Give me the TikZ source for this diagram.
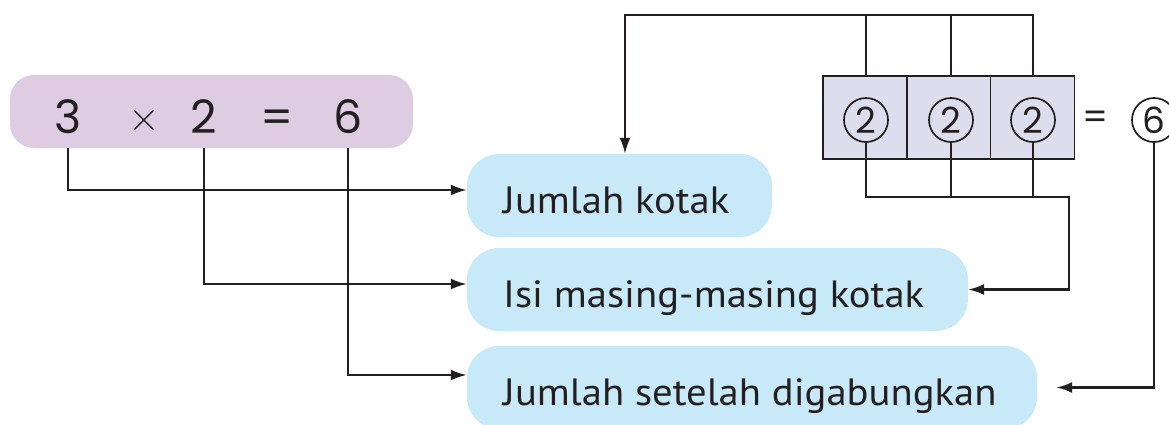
\documentclass[tikz,border=0pt]{standalone}
\usepackage{fontspec}
\setmainfont{PT Sans}[FakeStretch=1.07]
\newfontfamily\digf{Poppins}
\newfontfamily\lmf{Latin Modern Roman}
\usetikzlibrary{arrows.meta,calc}
\definecolor{lila}{RGB}{222,204,227}
\definecolor{biru}{RGB}{199,233,248}
\definecolor{lav}{RGB}{221,221,238}
\definecolor{ink}{RGB}{35,31,32}
\tikzset{
  conn/.style={draw=ink, line width=2.3pt},
  arr/.style={conn, -{Latex[length=16pt,width=11pt]}},
  eqbox/.style={fill=lila, rounded corners=24pt, minimum width=403pt, minimum height=73pt, inner sep=0pt},
  dig/.style={anchor=base, text=ink, font=\digf\fontsize{46}{46}\selectfont, inner sep=0pt},
  labelbox/.style={fill=biru, rounded corners=32pt, minimum height=83pt, inner sep=0pt},
  labeltext/.style={anchor=base west, inner sep=0pt, text=ink, font=\fontsize{38}{38}\selectfont},
  cell/.style={draw=ink, line width=1.7pt, fill=lav, minimum width=84pt, minimum height=83pt, inner sep=0pt},
  circ/.style={draw=ink, line width=1.7pt, circle, minimum size=44pt, inner sep=0pt, text=ink, font=\digf\fontsize{36}{36}\selectfont}
}
\begin{document}
\begin{tikzpicture}[x=1pt,y=-1pt]
\useasboundingbox (0,0) rectangle (1169,424);
% equation
\node[eqbox] (eq) at (211.5,111.5) {};
\node[dig] (n3) at (68,133) {3};
\node[text=ink, inner sep=0pt, font=\lmf\fontsize{44}{44}\selectfont] (tm) at (144,121) {×};
\node[dig] (n2) at (204,133) {2};
\node[dig] (ne) at (277,133) {=};
\node[dig] (n6) at (348,133) {6};
% labels
\node[labelbox, minimum width=305pt] (b1) at (619.5,195.5) {};
\node[labelbox, minimum width=501pt] (b2) at (717.5,289.5) {};
\node[labelbox, minimum width=570pt] (b3) at (752,387.5) {};
\node[labeltext] (l1) at (503,213) {Jumlah kotak};
\node[labeltext] (l2) at (503,307) {Isi masing-masing kotak};
\node[labeltext] (l3) at (503,405) {Jumlah setelah digabungkan};
% cells
\node[cell] (c1) at (865,117.5) {};
\node[cell] (c2) at (949,117.5) {};
\node[cell] (c3) at (1032.5,117.5) {};
\node[circ] (k1) at (866,120) {2};
\node[circ] (k2) at (951,120) {2};
\node[circ] (k3) at (1033,120) {2};
\node[text=ink, font=\digf\fontsize{36}{36}\selectfont, inner sep=0pt] (eq2) at (1095,120) {=};
\node[circ] (k6) at (1154,120) {6};
% connectors from equation
\draw[arr] (n3 |- eq.south) |- ($(b1.west)+(0,-5.5)$);
\draw[arr] (n2 |- eq.south) |- ($(b2.west)+(0,-5.5)$);
\draw[arr] (n6 |- eq.south) |- ($(b3.west)+(0,-12.5)$);
% top connector
\coordinate (t0) at (625,15);
\draw[arr] (k3 |- c3.north) |- (t0) -- (t0 |- b1.north);
\draw[conn] (k1 |- c1.north) -- (k1 |- t0);
\draw[conn] (k2 |- c2.north) -- (k2 |- t0);
% bottom connector
\coordinate (u) at (1069,197);
\draw[arr] (k1.south) |- (u) |- (b2.east);
\draw[conn] (k2.south) -- (k2 |- u);
\draw[conn] (k3.south) -- (k3 |- u);
% six
\draw[arr, shorten >=19pt] (k6.south) |- (b3.east);
\end{tikzpicture}
\end{document}
